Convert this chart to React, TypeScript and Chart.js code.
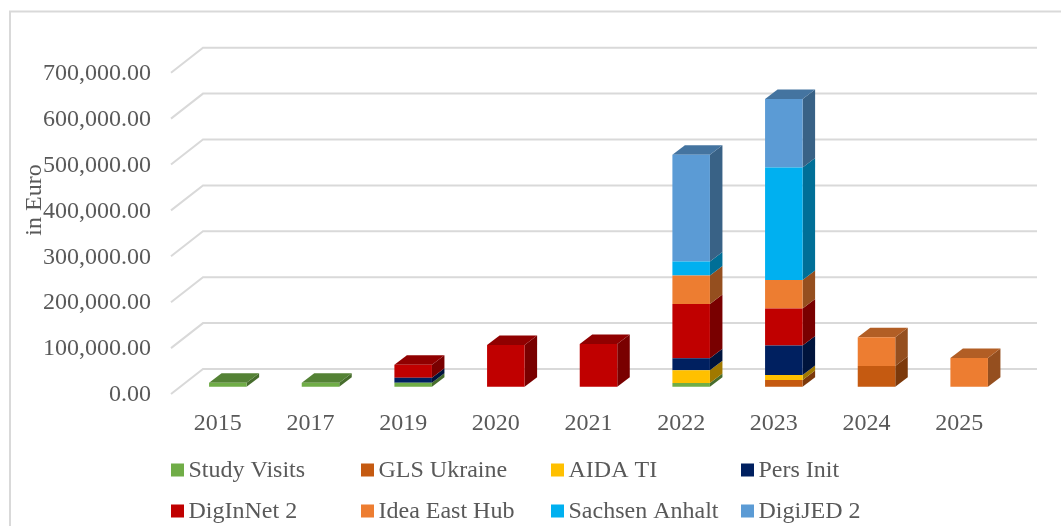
import React, { useEffect, useRef } from "react";
import { Chart, registerables } from "chart.js";

Chart.register(...registerables);

const categories = ["2015", "2017", "2019", "2020", "2021", "2022", "2023", "2024", "2025"];
const yTicks = [0, 100000, 200000, 300000, 400000, 500000, 600000, 700000];

const studyVisits = [8700, 8700, 8700, 0, 0, 8000, 0, 0, 0];
const glsUkraine = [0, 0, 0, 0, 0, 0, 14600, 45000, 0];
const aidaTi = [0, 0, 0, 0, 0, 28000, 10900, 0, 0];
const persInit = [0, 0, 11000, 0, 0, 26000, 64000, 0, 0];
const digInNet2 = [0, 0, 28000, 91000, 93000, 118000, 80600, 0, 0];
const ideaEastHub = [0, 0, 0, 0, 0, 62000, 62500, 62500, 62500];
const sachsenAnhalt = [0, 0, 0, 0, 0, 30500, 244700, 0, 0];
const digiJed2 = [0, 0, 0, 0, 0, 233000, 149700, 0, 0];

const seriesNames = ["Study Visits", "GLS Ukraine", "AIDA TI", "Pers Init", "DigInNet 2", "Idea East Hub", "Sachsen Anhalt", "DigiJED 2"];
const seriesValues = [studyVisits, glsUkraine, aidaTi, persInit, digInNet2, ideaEastHub, sachsenAnhalt, digiJed2];
const seriesColors = ["#70AD47", "#C55A11", "#FFC000", "#002060", "#C00000", "#ED7D31", "#00B0F0", "#5B9BD5"];

const FONT = '"Liberation Serif", "Times New Roman", serif';
const TEXT = "#595959";
const GRID = "#D9D9D9";

function shade(hex: string, k: number) {
  const n = parseInt(hex.slice(1), 16);
  const r = Math.round(((n >> 16) & 255) * k);
  const g = Math.round(((n >> 8) & 255) * k);
  const b = Math.round((n & 255) * k);
  return `rgb(${r},${g},${b})`;
}

const BAR_DX = 10.5;
const BAR_DY = -7.3;
const DEPTH_X = 12.5;
const DEPTH_Y = 9.5;
const WALL_X = 32;
const WALL_Y = 25;

const frame3d = {
  id: "frame3d",
  beforeDraw(chart: any) {
    const { ctx } = chart;
    ctx.save();
    ctx.strokeStyle = GRID;
    ctx.lineWidth = 2;
    ctx.strokeRect(10, 11.5, 1100, 600);
    ctx.restore();
  },
  beforeDatasetsDraw(chart: any) {
    const { ctx, chartArea, scales } = chart;
    ctx.save();
    ctx.strokeStyle = GRID;
    ctx.lineWidth = 2;
    for (const v of yTicks) {
      const y = scales.y.getPixelForValue(v);
      ctx.beginPath();
      ctx.moveTo(chartArea.left, y);
      ctx.lineTo(chartArea.left + WALL_X, y - WALL_Y);
      ctx.lineTo(chartArea.right + WALL_X, y - WALL_Y);
      ctx.stroke();
    }
    ctx.restore();

    ctx.save();
    ctx.translate(BAR_DX, BAR_DY);
    chart.data.datasets.forEach((ds: any, di: number) => {
      const meta = chart.getDatasetMeta(di);
      meta.data.forEach((bar: any, i: number) => {
        if (!ds.data[i]) return;
        const right = bar.x + bar.width / 2;
        const left = bar.x - bar.width / 2;
        ctx.fillStyle = shade(seriesColors[di], 0.63);
        ctx.beginPath();
        ctx.moveTo(right, bar.y);
        ctx.lineTo(right + DEPTH_X, bar.y - DEPTH_Y);
        ctx.lineTo(right + DEPTH_X, bar.base - DEPTH_Y);
        ctx.lineTo(right, bar.base);
        ctx.closePath();
        ctx.fill();
        const isTop = !chart.data.datasets.slice(di + 1).some((o: any) => o.data[i]);
        if (isTop) {
          ctx.fillStyle = shade(seriesColors[di], 0.75);
          ctx.beginPath();
          ctx.moveTo(left, bar.y);
          ctx.lineTo(left + DEPTH_X, bar.y - DEPTH_Y);
          ctx.lineTo(right + DEPTH_X, bar.y - DEPTH_Y);
          ctx.lineTo(right, bar.y);
          ctx.closePath();
          ctx.fill();
        }
      });
    });
    ctx.restore();

    ctx.save();
    ctx.translate(BAR_DX, BAR_DY);
  },
  afterDatasetsDraw(chart: any) {
    chart.ctx.restore();
  },
  afterDraw(chart: any) {
    const { ctx } = chart;
    const colX = [171, 361, 551, 741];
    const rowY = [470, 511];
    ctx.save();
    ctx.font = `24px ${FONT}`;
    ctx.textBaseline = "middle";
    ctx.textAlign = "left";
    seriesNames.forEach((name, i) => {
      const x = colX[i % 4];
      const y = rowY[Math.floor(i / 4)];
      ctx.fillStyle = seriesColors[i];
      ctx.fillRect(x, y - 6.5, 13, 13);
      ctx.fillStyle = TEXT;
      ctx.fillText(name, x + 17.5, y + 1);
    });
    ctx.restore();
  },
};

export default function App() {
  const ref = useRef<HTMLCanvasElement>(null);
  useEffect(() => {
    document.body.style.margin = "0";
    const chart = new Chart(ref.current as HTMLCanvasElement, {
      type: "bar",
      data: {
        labels: categories,
        datasets: seriesNames.map((name, i) => ({
          label: name,
          data: seriesValues[i],
          backgroundColor: seriesColors[i],
          stack: "all",
          barPercentage: 0.405,
          categoryPercentage: 1,
          clip: false,
        })),
      } as any,
      options: {
        responsive: false,
        animation: false,
        layout: { autoPadding: false, padding: { left: 0, right: 56, top: 4, bottom: 0 } },
        plugins: { legend: { display: false }, tooltip: { enabled: false } },
        scales: {
          x: {
            stacked: true,
            grid: { display: false, drawTicks: false },
            border: { display: false },
            afterFit: (s: any) => { s.height = 130; s.paddingLeft = 0; s.paddingRight = 0; },
            ticks: {
              color: TEXT,
              padding: 13,
              labelOffset: 0.5,
              maxRotation: 0,
              autoSkip: false,
              font: { family: FONT, size: 24 },
            },
          },
          y: {
            stacked: true,
            min: -4357,
            max: 849673,
            grid: { display: false, drawTicks: false },
            border: { display: false },
            afterFit: (s: any) => { s.width = 171; s.paddingTop = 0; s.paddingBottom = 0; },
            afterBuildTicks: (s: any) => { s.ticks = yTicks.map((value) => ({ value })); },
            title: {
              display: true,
              text: "in Euro",
              color: TEXT,
              font: { family: FONT, size: 24 },
              padding: { top: 20, bottom: 0 },
            },
            ticks: {
              color: TEXT,
              padding: 20,
              labelOffset: 1,
              font: { family: FONT, size: 24 },
              callback: (v: any) =>
                Number(v).toLocaleString("en-US", { minimumFractionDigits: 2, maximumFractionDigits: 2 }),
            },
          },
        },
      } as any,
      plugins: [frame3d],
    });
    return () => chart.destroy();
  }, []);
  return <canvas ref={ref} width={1061} height={526} style={{ display: "block" }} />;
}
